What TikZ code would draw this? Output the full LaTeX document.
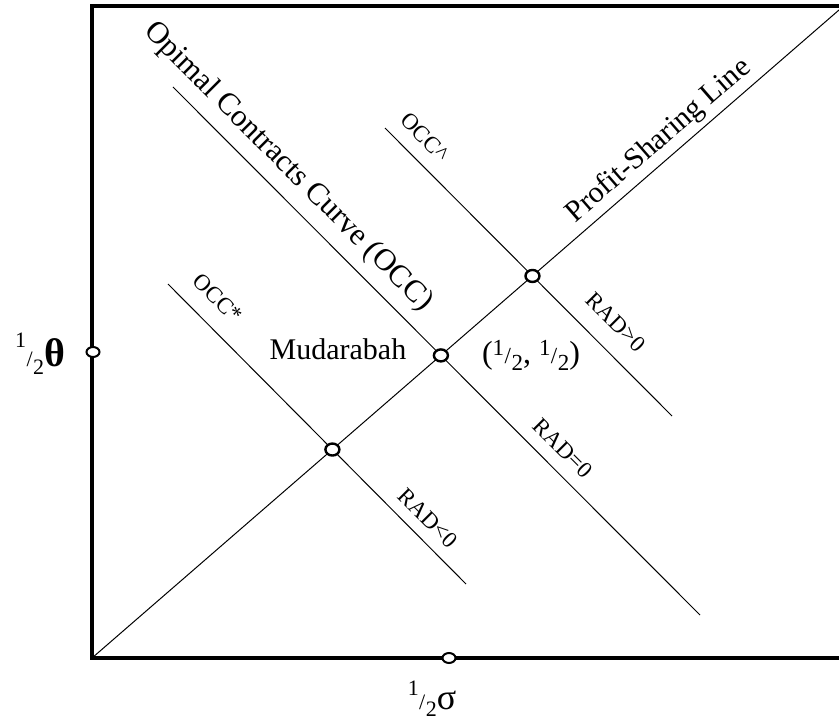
\documentclass[tikz,border=0pt]{standalone}
\usepackage{fontspec}
\setmainfont{Liberation Serif}
\usetikzlibrary{shapes.geometric}
\newcommand\myfrac[2]{\raisebox{#1}{1}\kern0.02em/\kern0.02em\raisebox{-#2}{2}}
\begin{document}
\begin{tikzpicture}[x=1pt,y=-1pt,
  axisline/.style={line width=3.2pt},
  diag/.style={line width=1pt},
  dot/.style={ellipse, draw, line width=2.4pt, fill=white, minimum width=14pt, minimum height=12pt, inner sep=0pt},
  axdot/.style={ellipse, draw, line width=2pt, fill=white, minimum width=13pt, minimum height=10pt, inner sep=0pt},
  small/.style={font=\fontsize{23}{25}\selectfont, inner sep=0pt},
  big/.style={font=\fontsize{31}{33}\selectfont, inner sep=0pt},
]
\useasboundingbox (0,0) rectangle (839,722);

% frame
\coordinate (O) at (92,658);
\coordinate (TL) at (92,6);
\coordinate (TR) at (839,6);
\coordinate (BR) at (839,658);
\draw[axisline] (TR) -- (TL) -- (O) -- (BR);

% lines
\coordinate (psB) at (839,10);
\coordinate (occA) at (173,87);
\coordinate (occB) at (700,615);
\coordinate (occhA) at (385,128);
\coordinate (occhB) at (672,416);
\coordinate (occsA) at (168,284);
\coordinate (occsB) at (466,584);
\draw[diag] (O) -- (psB);
\draw[diag] (occA) -- (occB);
\draw[diag] (occhA) -- (occhB);
\draw[diag] (occsA) -- (occsB);

% intersection points
\node[dot] (pm) at (intersection of occA--occB and O--psB) {};
\node[dot] (ph) at (intersection of occhA--occhB and O--psB) {};
\node[dot] (ps) at (intersection of occsA--occsB and O--psB) {};

% axis markers
\node[axdot] (ay) at (93,352) {};
\node[axdot] (ax) at (449,658) {};

% labels
\node[big, rotate=-45] (lblocc) at (288,167) {Opimal Contracts Curve (OCC)};
\node[font=\fontsize{30}{32}\selectfont, inner sep=0pt, rotate=41] (lblps) at (659,141) {Profit-Sharing Line};
\node[small, rotate=-45] (lblocch) at (425,137) {OCC\textasciicircum};
\node[small, rotate=-45] (lbloccs) at (218,298) {OCC*};
\node[small, rotate=-45] (lblradp) at (616,322) {RAD>0};
\node[small, rotate=-45] (lblradz) at (563,448) {RAD=0};
\node[small, rotate=-45] (lblradn) at (428,518) {RAD<0};
\node[font=\fontsize{30}{32}\selectfont, inner sep=0pt] (lblmud) at (338,349) {Mudarabah};
\node[font=\fontsize{32}{34}\selectfont, inner sep=0pt] (lblhalf) at (531,355)
  {({\fontsize{23}{25}\selectfont\myfrac{8pt}{7pt}}, {\fontsize{23}{25}\selectfont\myfrac{8pt}{7pt}})};
\node[inner sep=0pt] (lbltheta) at (40,354)
  {{\fontsize{22}{24}\selectfont\myfrac{19pt}{8pt}}{\fontsize{40}{42}\selectfont\textbf{θ}}};
\node[inner sep=0pt] (lblsigma) at (432,699)
  {{\fontsize{22}{24}\selectfont\myfrac{14pt}{7pt}}{\fontsize{36}{38}\selectfont σ}};
\end{tikzpicture}
\end{document}
